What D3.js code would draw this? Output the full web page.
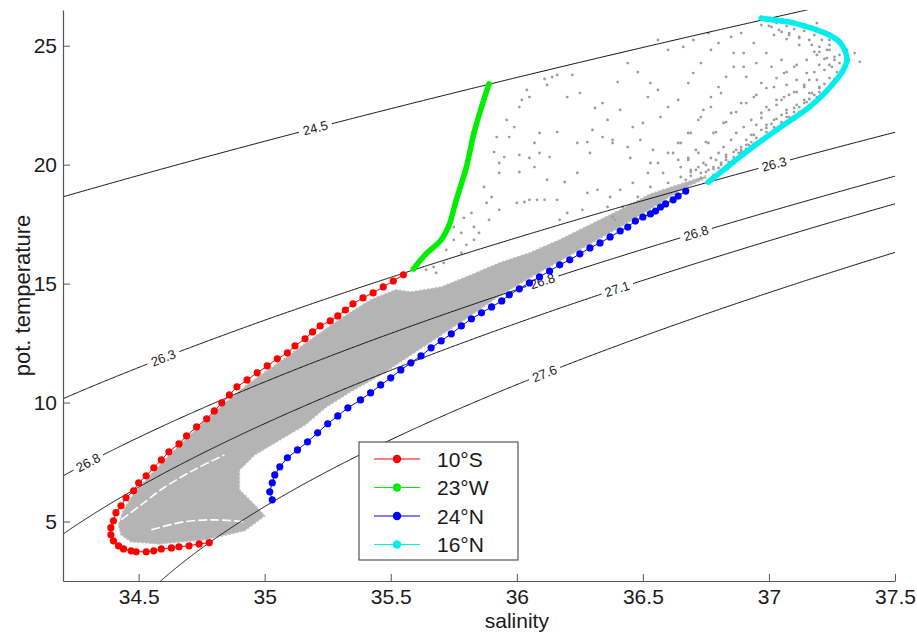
<!DOCTYPE html>
<html>
<head>
<meta charset="utf-8">
<script src="https://cdn.jsdelivr.net/npm/d3@7"></script>
<style>
  body { margin: 0; background: #fff; }
  svg text { font-family: "Liberation Sans", Arial, sans-serif; fill: #1a1a1a; }
</style>
</head>
<body>
<svg id="chart" width="917" height="637"></svg>
<script>
// ---- data -------------------------------------------------------------
const salinityTicks = [34.5, 35, 35.5, 36, 36.5, 37, 37.5];
const tempTicks = [5, 10, 15, 20, 25];

const densityLevels = [24.5, 26.3, 26.8, 27.1, 27.6];
const labelLevel = [24.5, 26.3, 26.3, 26.8, 26.8, 26.8, 27.1, 27.6];
const labelSalinity = [35.20, 34.60, 37.02, 34.30, 36.10, 36.71, 36.40, 36.11];

const seriesNames = ['10°S', '23°W', '24°N', '16°N'];
const seriesColors = ['#ff0000', '#00ee00', '#0000ff', '#00eeee'];

const sec10S = [
  [35.55,15.37],[35.51,15.11],[35.47,14.86],[35.43,14.61],[35.39,14.40],[35.35,14.15],
  [35.32,13.89],[35.29,13.64],[35.26,13.43],[35.22,13.22],[35.19,12.97],[35.16,12.68],
  [35.12,12.38],[35.09,12.09],[35.05,11.84],[35.01,11.54],[34.97,11.25],[34.93,10.95],
  [34.89,10.66],[34.86,10.32],[34.83,9.99],[34.80,9.65],[34.77,9.32],[34.73,8.98],
  [34.69,8.60],[34.66,8.26],[34.62,7.93],[34.59,7.59],[34.56,7.26],[34.53,6.92],
  [34.50,6.63],[34.48,6.29],[34.45,6.00],[34.43,5.66],[34.41,5.37],[34.40,5.03],
  [34.39,4.74],[34.39,4.44],[34.40,4.19],[34.42,3.98],[34.44,3.85],[34.47,3.77],
  [34.49,3.73],[34.53,3.73],[34.56,3.77],[34.59,3.85],[34.63,3.89],[34.66,3.94],
  [34.70,3.98],[34.74,4.06],[34.78,4.11]
];
const sec23W = [
  [35.59,15.62],[35.64,16.25],[35.70,16.84],[35.73,17.42],[35.76,18.52],
  [35.80,19.90],[35.83,21.33],[35.86,22.42],[35.89,23.39]
];
const sec24N = [
  [35.03,5.91],[35.02,6.25],[35.03,6.63],[35.04,6.96],[35.06,7.30],[35.09,7.68],
  [35.13,8.01],[35.17,8.35],[35.21,8.73],[35.25,9.11],[35.29,9.44],[35.33,9.78],
  [35.38,10.11],[35.42,10.41],[35.46,10.74],[35.50,11.04],[35.54,11.37],[35.58,11.67],
  [35.62,11.96],[35.66,12.30],[35.70,12.59],[35.74,12.89],[35.78,13.22],[35.82,13.52],
  [35.86,13.77],[35.90,14.02],[35.94,14.27],[35.97,14.53],[36.01,14.78],[36.05,15.03],
  [36.09,15.28],[36.13,15.53],[36.17,15.79],[36.21,16.00],[36.25,16.25],[36.29,16.50],
  [36.33,16.71],[36.37,16.96],[36.41,17.21],[36.44,17.38],[36.47,17.63],[36.50,17.80],
  [36.53,17.93],[36.55,18.05],[36.57,18.22],[36.59,18.35],[36.62,18.52],[36.64,18.68],
  [36.67,18.89]
];
const sec16N = [
  [36.76,19.27],[36.83,19.86],[36.90,20.45],[36.97,21.00],[37.03,21.46],[37.10,21.96],
  [37.16,22.42],[37.21,22.89],[37.25,23.35],[37.29,23.89],[37.31,24.40],[37.30,24.82],
  [37.28,25.16],[37.24,25.45],[37.19,25.66],[37.14,25.83],[37.10,25.95],[37.05,26.04],
  [36.99,26.12],[36.97,26.16]
];

// outline of the densely filled part of the model cloud
const denseCloud = [
  [36.75,19.53],[36.65,19.19],[36.53,18.77],[36.41,18.10],[36.29,17.47],[36.17,16.84],
  [36.05,16.29],[35.93,15.87],[35.82,15.37],[35.70,14.86],[35.58,14.65],[35.52,14.74],
  [35.42,14.32],[35.30,13.52],[35.18,12.63],[35.06,11.71],[34.94,10.83],[34.82,9.78],
  [34.72,8.81],[34.62,7.76],[34.55,7.00],[34.48,6.16],[34.44,5.49],[34.42,4.86],
  [34.43,4.44],[34.47,4.15],[34.58,4.06],[34.76,4.23],[34.92,4.61],[35.00,5.24],
  [34.96,5.70],[34.90,6.33],[34.90,7.17],[34.96,7.80],[35.06,8.43],[35.16,9.06],
  [35.24,9.78],[35.34,10.45],[35.46,11.16],[35.58,12.00],[35.70,12.84],[35.82,13.68],
  [35.93,14.48],[36.05,15.24],[36.17,15.95],[36.29,16.67],[36.41,17.38],[36.53,18.14],
  [36.65,18.94],[36.75,19.44]
];
// thin empty streaks inside the cold fan
const fanGaps = [
  [[34.43,5.07],[34.51,5.70],[34.60,6.42],[34.72,7.17],[34.84,7.80]],
  [[34.55,4.65],[34.68,4.99],[34.80,5.07],[34.92,4.99]]
];

// scattered single model points
const cloudPoints = [
  [36.11,23.60],[36.14,23.68],[36.16,23.77],[36.22,23.77],[36.12,23.35],[36.04,23.14],
  [36.05,22.84],[36.01,22.42],[36.02,22.72],[36.20,22.84],[36.25,23.01],[36.31,22.38],
  [36.34,22.59],[36.40,23.47],[35.96,21.88],[35.99,21.58],[35.92,21.16],[35.97,21.16],
  [36.09,21.33],[36.07,20.91],[36.16,21.37],[36.30,21.46],[36.34,21.16],[36.38,20.91],
  [35.91,20.53],[35.95,20.32],[36.01,20.41],[36.05,20.28],[35.93,20.07],[36.09,20.49],
  [36.13,20.32],[36.24,20.91],[36.28,20.95],[35.93,19.65],[36.01,19.69],[36.07,19.90],
  [36.12,19.36],[36.19,19.27],[36.24,19.65],[36.28,18.81],[36.32,18.94],[35.87,19.06],
  [35.90,18.64],[35.88,18.39],[35.82,17.97],[35.83,17.38],[35.79,17.76],[35.78,17.13],
  [35.85,17.13],[35.89,17.68],[35.93,18.10],[36.00,18.39],[36.03,18.43],[36.05,18.52],
  [36.08,18.52],[36.11,18.52],[36.16,18.52],[36.20,17.97],[36.26,18.10],[36.36,18.22],
  [36.38,17.80],[36.39,17.68],[35.75,16.84],[35.80,16.63],[35.72,16.42],[35.78,16.29],
  [35.71,15.87],[35.67,15.70],[35.68,15.45],[35.64,15.58],[35.75,17.38],[35.83,16.84],
  [36.44,24.27],[36.48,23.89],[36.53,23.43],[36.56,23.14],[36.52,22.84],[36.36,21.88],
  [36.41,22.30],[36.46,21.58],[36.50,21.75],[36.57,22.00],[36.60,22.42],[36.64,22.72],
  [36.68,23.43],[36.70,23.85],[36.73,24.27],[36.77,24.82],[36.80,25.11],[36.85,25.37],
  [36.89,25.53],[36.66,24.95],[36.60,24.82],[36.56,25.24],[36.70,25.24],[36.76,25.53],
  [36.86,24.69],[36.90,24.11],[36.83,23.69],[36.80,23.26],[36.77,22.84],[36.74,22.30],
  [36.72,21.88],[36.68,21.33],[36.64,20.91],[36.60,20.49],[36.56,20.07],[36.52,19.65],
  [36.46,19.23],[36.41,18.94],[36.37,18.64],[36.44,20.74],[36.38,21.04],[36.49,21.04],
  [36.54,20.62],[36.29,20.49],[36.45,20.28],[36.53,20.07],[36.58,19.65],[36.64,20.20],
  [36.69,19.78],[36.17,17.68],[36.42,18.22],[36.48,18.64],[36.53,19.06],[36.60,19.23],
  [36.65,19.48],
  [37.01,25.79],[37.05,25.58],[37.08,25.53],[37.12,25.37],[37.16,25.24],[37.20,24.95],
  [37.23,24.82],[37.26,24.53],[37.28,24.27],[37.31,24.82],[37.36,24.32],[37.34,24.69],
  [37.19,25.95],[37.24,25.24],
  [36.97,25.87],[37.02,25.45],[37.07,25.28],[37.12,25.03],[37.18,24.74],[37.22,24.44],
  [37.24,24.19],[37.27,23.89],[37.26,23.60],[37.23,23.18],[37.20,23.05],[37.18,22.93],
  [37.15,22.63],[37.12,22.42],[37.10,22.21],[37.07,22.00],[37.05,21.79],[37.02,21.58],
  [36.99,21.37],[36.97,21.08],[36.94,20.87],[36.91,20.66],[36.89,20.53],[36.86,20.32],
  [36.83,20.20],[36.81,19.99],[36.78,19.82],
  [36.94,25.11],[36.99,24.69],[37.05,24.40],[37.10,24.11],[37.15,23.85],[37.19,23.56],
  [37.20,23.26],[37.16,23.01],[37.14,22.72],[37.11,22.51],[37.07,22.30],[37.05,22.09],
  [37.02,21.88],[36.99,21.67],[36.97,21.46],[36.94,21.25],[36.91,21.04],[36.89,20.74],
  [36.86,20.53],[36.83,20.32],[36.81,20.07],[36.78,19.90],[36.76,19.78],[36.73,19.65],
  [36.90,24.69],[36.95,24.27],[37.01,24.11],[37.06,23.85],[37.11,23.56],[37.14,23.26],
  [37.10,23.05],[37.06,22.84],[37.03,22.72],[36.99,22.42],[36.97,22.17],[36.93,21.88],
  [36.90,21.58],[36.87,21.33],[36.85,21.04],[36.82,20.74],[36.80,20.49],[36.77,20.28],
  [36.74,20.07],[36.72,19.90],[36.69,19.69],
  [36.86,24.11],[36.91,23.69],[36.97,23.43],[37.02,23.26],[37.07,23.35],[36.94,22.84],
  [36.89,22.59],[36.85,22.17],[36.82,21.75],[36.78,21.33],[36.76,20.91],[36.72,20.49],
  [36.68,20.20],[36.65,19.90],[36.81,23.01],[36.77,22.42],[36.73,22.00],[36.69,21.33],
  [36.65,20.91],[36.62,20.49],
  [36.73,19.44],[36.75,19.69],[36.78,19.57],[36.80,19.86],[36.84,20.11],[36.86,20.20],
  [36.88,20.49],[36.89,20.62],[36.92,20.83],[36.93,20.95],[36.95,21.12],[36.91,20.83],
  [36.87,20.62],[36.83,20.41],[36.79,20.20],[36.75,19.99],[36.71,19.78],[36.69,19.53],
  [36.67,19.36],
  [36.99,21.54],[37.01,21.71],[37.03,21.92],[37.05,21.71],[37.07,22.17],[37.08,22.00],
  [37.10,22.38],[37.12,22.21],[37.14,22.59],[37.16,22.76],[37.17,23.01],[37.19,22.84],
  [37.20,23.22],[37.22,23.39],[37.24,23.64],[37.22,23.98],[37.25,24.11],[37.26,24.40],
  [37.28,24.61],[37.24,24.82],
  [36.93,21.25],[36.95,21.67],[36.97,21.96],[37.00,22.30],[37.03,22.51],[37.05,22.72],
  [37.08,22.93],[37.11,23.05],[37.14,23.35],[37.16,23.56],[37.18,23.89],[37.20,24.19],
  [37.23,24.48],[37.19,24.61],[37.15,24.40],[37.11,24.19],[37.07,23.89],[37.03,23.64],
  [36.99,23.22],[36.95,22.93],[36.91,22.59],[36.87,22.21],[36.83,21.79],[36.79,21.37],
  [36.75,20.95],[36.71,20.62],[36.68,20.28],
  [37.03,25.95],[37.07,25.83],[37.10,25.70],[37.14,25.62],[37.18,25.45],[37.21,25.24],
  [37.24,25.03],[37.12,25.32],[37.08,25.45],[37.04,25.66],[37.00,25.83],[37.17,25.03],
  [37.20,24.74]
];

// ---- potential density (UNESCO 1981, surface pressure) -----------------
function sigmaTheta(s, t) {
  const rw = 999.842594 + 6.793952e-2 * t - 9.095290e-3 * t * t + 1.001685e-4 * t ** 3
           - 1.120083e-6 * t ** 4 + 6.536332e-9 * t ** 5;
  const a = 8.24493e-1 - 4.0899e-3 * t + 7.6438e-5 * t * t - 8.2467e-7 * t ** 3 + 5.3875e-9 * t ** 4;
  const b = -5.72466e-3 + 1.0227e-4 * t - 1.6546e-6 * t * t;
  const c = 4.8314e-4;
  return rw + a * s + b * Math.pow(s, 1.5) + c * s * s - 1000;
}

function salinityAt(level, t) {
  let lo = 25, hi = 45;
  for (let k = 0; k < 50; k++) {
    const mid = (lo + hi) / 2;
    if (sigmaTheta(mid, t) < level) lo = mid; else hi = mid;
  }
  return (lo + hi) / 2;
}

// ---- chart --------------------------------------------------------------
const svg = d3.select('#chart');
const plot = { left: 63, right: 895, top: 10, bottom: 581 };

const x = d3.scaleLinear().domain([34.2, 37.5]).range([plot.left, plot.right]);
const y = d3.scaleLinear().domain([2.5, 26.5]).range([plot.bottom, plot.top]);

svg.append('defs').append('clipPath').attr('id', 'plotClip')
  .append('rect')
  .attr('x', plot.left).attr('y', plot.top)
  .attr('width', plot.right - plot.left).attr('height', plot.bottom - plot.top);

const inner = svg.append('g').attr('clip-path', 'url(#plotClip)');

// dense cloud
inner.append('path')
  .datum(denseCloud)
  .attr('d', d3.line().x(d => x(d[0])).y(d => y(d[1])).curve(d3.curveLinearClosed))
  .attr('fill', '#b4b4b4')
  .attr('stroke', '#bcbcbc')
  .attr('stroke-width', 1.5)
  .attr('stroke-dasharray', '2 2');

inner.selectAll('.fan-gap')
  .data(fanGaps)
  .join('path')
  .attr('class', 'fan-gap')
  .attr('d', d3.line().x(d => x(d[0])).y(d => y(d[1])).curve(d3.curveCatmullRom))
  .attr('fill', 'none')
  .attr('stroke', '#fff')
  .attr('stroke-width', 1.6)
  .attr('stroke-dasharray', '9 3');

inner.selectAll('.cloud-pt')
  .data(cloudPoints)
  .join('circle')
  .attr('class', 'cloud-pt')
  .attr('cx', d => x(d[0]))
  .attr('cy', d => y(d[1]))
  .attr('r', 1.4)
  .attr('fill', '#9c9c9c');

// isopycnals with inline labels
const tSteps = d3.range(0, 28, 0.02);
densityLevels.forEach(level => {
  let pts = tSteps.map(t => {
    const s = salinityAt(level, t);
    return { px: x(s), py: y(t), gap: false };
  });
  const labels = labelLevel.map((lv, i) => [lv, labelSalinity[i]]).filter(d => d[0] === level);
  const labelPos = labels.map(([lv, sl]) => {
    const target = x(sl);
    const i = d3.minIndex(pts, p => Math.abs(p.px - target));
    const a = pts[Math.max(0, i - 20)], b = pts[Math.min(pts.length - 1, i + 20)];
    const ang = Math.atan2(b.py - a.py, b.px - a.px) * 180 / Math.PI;
    return { cx: pts[i].px, cy: pts[i].py, ang: ang };
  });
  pts.forEach(p => {
    labelPos.forEach(l => {
      if (Math.hypot(p.px - l.cx, p.py - l.cy) < 16) p.gap = true;
    });
  });

  inner.append('path')
    .datum(pts)
    .attr('d', d3.line().defined(p => !p.gap).x(p => p.px).y(p => p.py))
    .attr('fill', 'none')
    .attr('stroke', '#111')
    .attr('stroke-width', 1);

  labelPos.forEach(l => {
    inner.append('text')
      .attr('transform', `translate(${l.cx},${l.cy}) rotate(${l.ang})`)
      .attr('text-anchor', 'middle')
      .attr('dy', '0.35em')
      .style('font-size', '13px')
      .text(d3.format('.1f')(level));
  });
});

// sections
const sections = [sec10S, sec23W, sec24N, sec16N];
const thick = [false, true, false, true];

sections.forEach((sec, i) => {
  const g = inner.append('g');
  const lineGen = d3.line().x(d => x(d[0])).y(d => y(d[1]))
    .curve(thick[i] ? d3.curveCatmullRom : d3.curveLinear);
  g.append('path')
    .datum(sec)
    .attr('d', lineGen)
    .attr('fill', 'none')
    .attr('stroke', seriesColors[i])
    .attr('stroke-width', thick[i] ? 5.5 : 1)
    .attr('stroke-linejoin', 'round')
    .attr('stroke-linecap', 'round');
  g.selectAll('circle')
    .data(sec)
    .join('circle')
    .attr('cx', d => x(d[0]))
    .attr('cy', d => y(d[1]))
    .attr('r', thick[i] ? 2.7 : 3.6)
    .attr('fill', seriesColors[i]);
});

// axes
const xAxis = d3.axisBottom(x).tickValues(salinityTicks).tickFormat(d3.format('')).tickSize(-7).tickSizeOuter(0).tickPadding(8);
const yAxis = d3.axisLeft(y).tickValues(tempTicks).tickSize(-7).tickSizeOuter(0).tickPadding(6);

const gx = svg.append('g').attr('transform', `translate(0,${plot.bottom})`).call(xAxis);
const gy = svg.append('g').attr('transform', `translate(${plot.left},0)`).call(yAxis);
[gx, gy].forEach(g => {
  g.select('.domain').attr('stroke', '#555').attr('stroke-width', 1.2);
  g.selectAll('.tick line').attr('stroke', '#555');
  g.selectAll('.tick text').style('font-size', '21px').attr('fill', '#1a1a1a')
    .style('font-family', '"Liberation Sans", Arial, sans-serif');
});

svg.append('text')
  .attr('x', x(36)).attr('y', 628)
  .attr('text-anchor', 'middle')
  .style('font-size', '21px')
  .text('salinity');

svg.append('text')
  .attr('transform', `translate(30,${(plot.top + plot.bottom) / 2}) rotate(-90)`)
  .attr('text-anchor', 'middle')
  .style('font-size', '22px')
  .text('pot. temperature');

// legend
const legend = svg.append('g').attr('transform', 'translate(359,442)');
legend.append('rect')
  .attr('width', 159).attr('height', 118)
  .attr('fill', '#fff').attr('stroke', '#555').attr('stroke-width', 1.2);

const rows = legend.selectAll('.row')
  .data(seriesNames)
  .join('g')
  .attr('class', 'row')
  .attr('transform', (d, i) => `translate(0,${17 + i * 28.5})`);
rows.append('line')
  .attr('x1', 15).attr('x2', 61)
  .attr('stroke', (d, i) => seriesColors[i]).attr('stroke-width', 1);
rows.append('circle')
  .attr('cx', 38).attr('r', 4.2)
  .attr('fill', (d, i) => seriesColors[i]);
rows.append('text')
  .attr('x', 78).attr('dy', '0.36em')
  .style('font-size', '21px')
  .text(d => d);
</script>
</body>
</html>
